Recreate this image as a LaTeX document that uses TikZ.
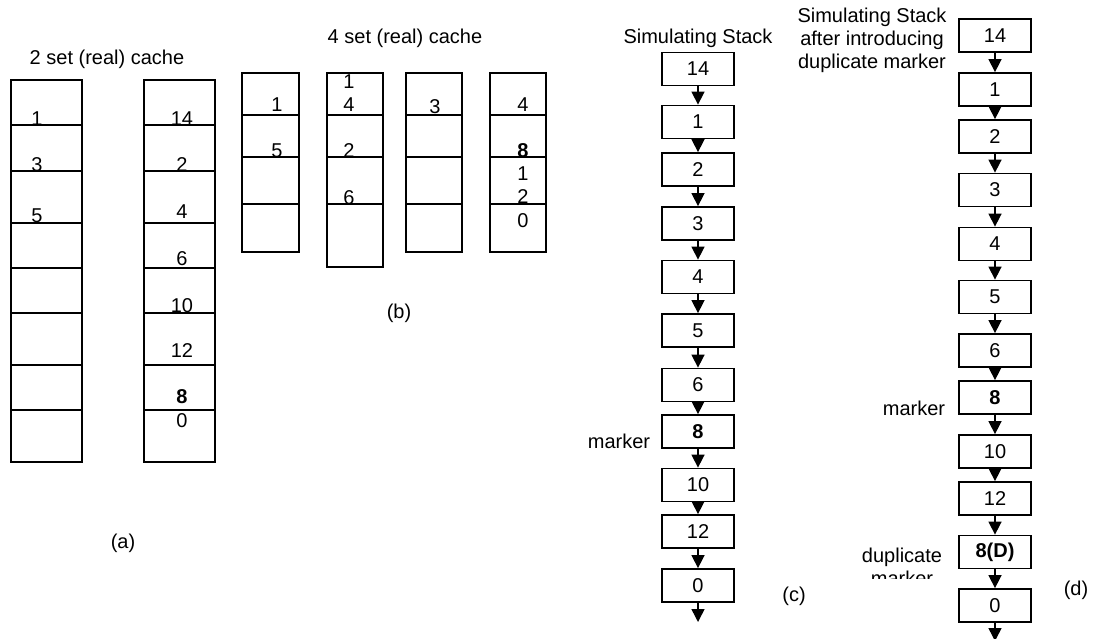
\documentclass[tikz,border=0pt]{standalone}
\usepackage{fontspec}
\setmainfont{Liberation Sans}
\usetikzlibrary{arrows.meta}
\begin{document}
\begin{tikzpicture}[x=1pt,y=-1pt,
  every node/.style={font=\fontsize{20}{23}\selectfont},
  txt/.style={anchor=base,inner sep=0pt},
  col/.style={draw,line width=1.6pt},
  stackbox/.style={draw,line width=1.8pt,minimum width=72pt,minimum height=33pt,inner sep=0pt},
  link/.style={-{Triangle[width=13pt,length=13pt]},line width=1.5pt}]
\clip (0,0) rectangle (1094,638);
\fill[white] (0,0) rectangle (1094,638);

% ---------- (a) 2 set (real) cache ----------
\node[txt] (atitle) at (107,64) {2 set (real) cache};
\foreach \i/\v in {1/125,3/171,5/222}
  \node[txt] (aL\i) at (37,\v) {\i};
\node[txt] (aR14) at (182,125) {14};
\node[txt] (aR2)  at (182,171) {2};
\node[txt] (aR4)  at (182,218) {4};
\node[txt] (aR6)  at (182,265) {6};
\node[txt] (aR10) at (182,312) {10};
\node[txt] (aR12) at (182,357) {12};
\node[txt] (aR8)  at (182,403) {\textbf{8}};
\node[txt] (aR0)  at (182,427) {0};
\foreach \xa/\xb in {11/82,144/215}{
  \draw[col] (\xa,80) rectangle (\xb,462);
  \foreach \y in {125,171,223,268,313,365,410}
    \draw[col] (\xa,\y) -- (\xb,\y);
}
\node[txt] (alabel) at (123,548) {(a)};

% ---------- (b) 4 set (real) cache ----------
\node[txt] (btitle) at (405,43) {4 set (real) cache};
\node[txt] (b11) at (277,111) {1};
\node[txt] (b15) at (277,157) {5};
\node[txt] (b21) at (349,88)  {1};
\node[txt] (b24) at (349,111) {4};
\node[txt] (b22) at (349,157) {2};
\node[txt] (b26) at (349,204) {6};
\node[txt] (b33) at (435,113) {3};
\node[txt] (b44) at (523,111) {4};
\node[txt] (b48) at (523,157) {\textbf{8}};
\node[txt] (b41) at (523,180) {1};
\node[txt] (b42) at (523,203) {2};
\node[txt] (b40) at (523,227) {0};
\foreach \xa/\xb/\yb in {242/299/252,327/383/267,406/462/252,490/546/252}{
  \draw[col] (\xa,73) rectangle (\xb,\yb);
  \foreach \y in {115,157,204}
    \draw[col] (\xa,\y) -- (\xb,\y);
}
\node[txt] (blabel) at (399,318) {(b)};

% ---------- (c) simulating stack ----------
\node[txt] (ctitle) at (698,43) {Simulating Stack};
\node[stackbox] (c14) at (698,69)    {14};
\node[stackbox] (c1)  at (698,122)   {1};
\node[stackbox] (c2)  at (698,169.5) {2};
\node[stackbox] (c3)  at (698,223.5) {3};
\node[stackbox] (c4)  at (698,277)   {4};
\node[stackbox] (c5)  at (698,330.5) {5};
\node[stackbox] (c6)  at (698,385)   {6};
\node[stackbox] (c8)  at (698,431.5) {\textbf{8}};
\node[stackbox] (c10) at (698,485)   {10};
\node[stackbox] (c12) at (698,531.5) {12};
\node[stackbox] (c0)  at (698,585.5) {0};
\coordinate (cend) at (698,622);
\foreach \a/\b in {c14/c1,c1/c2,c2/c3,c3/c4,c4/c5,c5/c6,c6/c8,c8/c10,c10/c12,c12/c0,c0/cend}
  \draw[link] (\a) -- (\b);
\node[txt] (cmark) at (619,448) {marker};
\node[txt] (clabel) at (794,601) {(c)};

% ---------- (d) stack with duplicate marker ----------
\node[anchor=north,inner sep=0pt,align=center] (dtitle) at (872,7.5)
  {Simulating Stack\\after introducing\\duplicate marker};
\node[stackbox] (d14) at (995,35.5)  {14};
\node[stackbox] (d1)  at (995,89.5)  {1};
\node[stackbox] (d2)  at (995,136.5) {2};
\node[stackbox] (d3)  at (995,190)   {3};
\node[stackbox] (d4)  at (995,244)   {4};
\node[stackbox] (d5)  at (995,297)   {5};
\node[stackbox] (d6)  at (995,350.5) {6};
\node[stackbox] (d8)  at (995,397.5) {\textbf{8}};
\node[stackbox] (d10) at (995,451.5) {10};
\node[stackbox] (d12) at (995,498.5) {12};
\node[stackbox] (d8D) at (995,552)   {\textbf{8(D)}};
\node[stackbox] (d0)  at (995,605.5) {0};
\coordinate (dend) at (995,641);
\foreach \a/\b in {d14/d1,d1/d2,d2/d3,d3/d4,d4/d5,d5/d6,d6/d8,d8/d10,d10/d12,d12/d8D,d8D/d0,d0/dend}
  \draw[link] (\a) -- (\b);
\node[txt] (dmark) at (914,415) {marker};
\begin{scope}
  \clip (840,530) rectangle (955,578);
  % the node's base is the baseline of its last line
  \node[txt,align=center] (ddup) at (902,585) {duplicate\\marker};
\end{scope}
\node[txt] (dlabel) at (1076,595) {(d)};
\end{tikzpicture}
\end{document}
